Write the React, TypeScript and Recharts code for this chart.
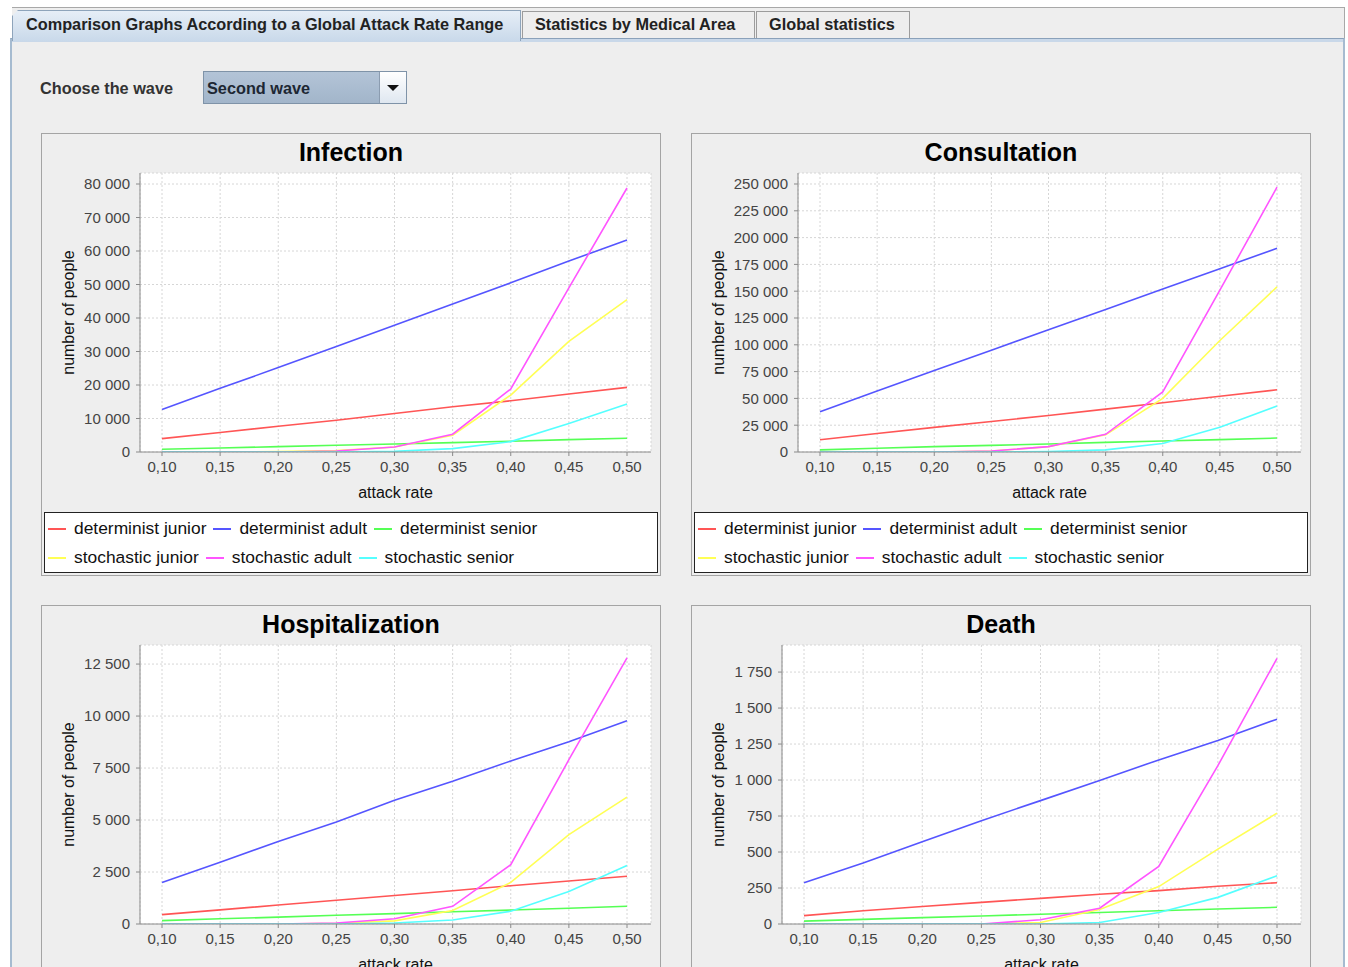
import React from 'react';
import { LineChart, Line, XAxis, YAxis, CartesianGrid, Legend } from 'recharts';

// ---------- data ----------
const attackRates = [0.1, 0.15, 0.2, 0.25, 0.3, 0.35, 0.4, 0.45, 0.5];

const seriesNames = [
  'determinist junior',
  'determinist adult',
  'determinist senior',
  'stochastic junior',
  'stochastic adult',
  'stochastic senior',
];
const seriesKeys = ['dj', 'da', 'ds', 'sj', 'sa', 'ss'];
const seriesColors = ['#ff5555', '#5555ff', '#55ff55', '#ffff55', '#ff55ff', '#55ffff'];

// Infection
const infDetJunior = [4000, 5800, 7700, 9500, 11500, 13500, 15300, 17300, 19300];
const infDetAdult = [12700, 19000, 25200, 31500, 37800, 44200, 50500, 57000, 63300];
const infDetSenior = [800, 1200, 1600, 2000, 2400, 2800, 3200, 3700, 4100];
const infStoJunior = [0, 0, 100, 400, 1500, 5000, 17000, 33000, 45500];
const infStoAdult = [0, 0, 0, 300, 1500, 5300, 18800, 49000, 78800];
const infStoSenior = [0, 0, 0, 0, 200, 1000, 3100, 8500, 14300];
const infTicks = [0, 10000, 20000, 30000, 40000, 50000, 60000, 70000, 80000];
const infYMax = 83284;

// Consultation
const conDetJunior = [11500, 17200, 23000, 28500, 34000, 40000, 46000, 52000, 58000];
const conDetAdult = [37500, 57000, 76000, 95000, 114000, 133000, 152000, 171000, 190000];
const conDetSenior = [2000, 3500, 5000, 6200, 7500, 9000, 10200, 11500, 13000];
const conStoJunior = [0, 0, 0, 1000, 5000, 16000, 50000, 104000, 154000];
const conStoAdult = [0, 0, 0, 1000, 5000, 16500, 56000, 151000, 247000];
const conStoSenior = [0, 0, 0, 0, 500, 2000, 8000, 23000, 43000];
const conTicks = [0, 25000, 50000, 75000, 100000, 125000, 150000, 175000, 200000, 225000, 250000];
const conYMax = 260261;

// Hospitalization
const hosDetJunior = [450, 680, 910, 1140, 1370, 1600, 1840, 2070, 2300];
const hosDetAdult = [2000, 2970, 3970, 4900, 5950, 6860, 7840, 8760, 9770];
const hosDetSenior = [160, 250, 330, 420, 500, 590, 670, 760, 850];
const hosStoJunior = [0, 0, 0, 30, 150, 650, 2000, 4300, 6100];
const hosStoAdult = [0, 0, 0, 50, 250, 850, 2850, 7900, 12800];
const hosStoSenior = [0, 0, 0, 0, 50, 190, 610, 1560, 2810];
const hosTicks = [0, 2500, 5000, 7500, 10000, 12500];
const hosYMax = 13417;

// Death
const deaDetJunior = [58, 92, 122, 150, 178, 207, 232, 262, 287];
const deaDetAdult = [287, 424, 572, 718, 857, 996, 1140, 1274, 1423];
const deaDetSenior = [20, 32, 44, 56, 68, 80, 92, 104, 116];
const deaStoJunior = [0, 0, 0, 0, 10, 100, 260, 520, 770];
const deaStoAdult = [0, 0, 0, 0, 30, 110, 400, 1100, 1845];
const deaStoSenior = [0, 0, 0, 0, 0, 10, 80, 185, 335];
const deaTicks = [0, 250, 500, 750, 1000, 1250, 1500, 1750];
const deaYMax = 1938;

const tabLabels = [
  'Comparison Graphs According to a Global Attack Rate Range',
  'Statistics by Medical Area',
  'Global statistics',
];

// ---------- helpers ----------
const FONT = '"Liberation Sans", Arial, Helvetica, sans-serif';

function buildRows(series: number[][]) {
  return attackRates.map((x, i) => {
    const row: Record<string, number> = { x };
    seriesKeys.forEach((k, s) => {
      row[k] = series[s][i];
    });
    return row;
  });
}

const fmtX = (v: number) => v.toFixed(2).replace('.', ',');
const fmtY = (v: number) => String(v).replace(/\B(?=(\d{3})+(?!\d))/g, ' ');

const renderLegend = (props: any) => {
  const items = ([...(props.payload || [])] as any[]).sort(
    (a, b) => seriesNames.indexOf(a.value) - seriesNames.indexOf(b.value)
  );
  const rows = [items.slice(0, 3), items.slice(3, 6)];
  return (
    <div
      style={{
        boxSizing: 'border-box',
        width: 614,
        height: 61,
        background: '#ffffff',
        border: '1px solid #222',
        paddingLeft: 3,
        fontFamily: FONT,
        fontSize: 17.4,
        color: '#111',
      }}
    >
      {rows.map((row, ri) => (
        <div
          key={ri}
          style={{ display: 'flex', alignItems: 'center', height: 29, marginTop: ri === 0 ? 1 : 0 }}
        >
          {row.map((it: any) => {
            const idx = seriesNames.indexOf(it.value);
            const color = idx >= 0 ? seriesColors[idx] : it.color;
            return (
              <div key={it.value} style={{ display: 'flex', alignItems: 'center', marginRight: 7 }}>
                <span
                  style={{ display: 'inline-block', width: 18, height: 2, background: color, marginRight: 8 }}
                />
                <span style={{ whiteSpace: 'nowrap' }}>{it.value}</span>
              </div>
            );
          })}
        </div>
      ))}
    </div>
  );
};

type PanelProps = {
  left: number;
  top: number;
  title: string;
  series: number[][];
  yTicks: number[];
  yMax: number;
  yAxisWidth: number;
};

function ChartPanel({ left, top, title, series, yTicks, yMax, yAxisWidth }: PanelProps) {
  const data = buildRows(series);
  const axisColor = '#8a8a8a';
  const tickStyle = { fontSize: 15, fill: '#444', fontFamily: FONT };
  return (
    <div style={{ position: 'absolute', left, top, width: 620, height: 443, background: '#eeeeee' }}>
      <LineChart
        width={620}
        height={443}
        data={data}
        margin={{ top: 40, right: 10, bottom: 3, left: 10 }}
        style={{ fontFamily: FONT }}
      >
        <CartesianGrid stroke="#d6d6d6" strokeDasharray="2 2" fill="#ffffff" />
        <XAxis
          dataKey="x"
          type="number"
          domain={[0.1, 0.5]}
          ticks={attackRates}
          tickFormatter={fmtX}
          padding={{ left: 22, right: 24 }}
          height={60}
          tickSize={4}
          tickMargin={5}
          stroke={axisColor}
          tick={tickStyle}
          interval={0}
          label={{ value: 'attack rate', position: 'insideBottom', offset: 14, style: { fontSize: 16, fill: '#111', fontFamily: FONT } }}
        />
        <XAxis
          xAxisId="top"
          dataKey="x"
          type="number"
          orientation="top"
          domain={[0.1, 0.5]}
          padding={{ left: 22, right: 24 }}
          height={0}
          tick={false}
          tickLine={false}
          stroke={axisColor}
        />
        <YAxis
          type="number"
          domain={[0, yMax]}
          ticks={yTicks}
          tickFormatter={fmtY}
          allowDataOverflow
          width={yAxisWidth}
          tickSize={4}
          tickMargin={6}
          stroke={axisColor}
          tick={tickStyle}
          interval={0}
          label={{
            value: 'number of people',
            angle: -90,
            position: 'insideLeft',
            offset: 17,
            style: { textAnchor: 'middle', fontSize: 16, fill: '#111', fontFamily: FONT },
          }}
        />
        <YAxis
          yAxisId="right"
          orientation="right"
          type="number"
          domain={[0, yMax]}
          width={0}
          tick={false}
          tickLine={false}
          stroke={axisColor}
        />
        <Legend
          verticalAlign="bottom"
          content={renderLegend}
          wrapperStyle={{ left: 3, bottom: 3, width: 614 }}
        />
        {seriesKeys.map((k, i) => (
          <Line
            key={k}
            dataKey={k}
            name={seriesNames[i]}
            stroke={seriesColors[i]}
            strokeWidth={1.6}
            dot={false}
            activeDot={false}
            type="linear"
            legendType="line"
            isAnimationActive={false}
          />
        ))}
      </LineChart>
      <div
        style={{
          position: 'absolute',
          left: 0,
          top: 4,
          width: 620,
          textAlign: 'center',
          fontFamily: FONT,
          fontWeight: 'bold',
          fontSize: 25,
          lineHeight: '30px',
          color: '#000',
        }}
      >
        {title}
      </div>
      <div
        style={{
          position: 'absolute',
          left: 0,
          top: 0,
          width: 620,
          height: 443,
          boxSizing: 'border-box',
          border: '1px solid #a4a4a4',
          pointerEvents: 'none',
        }}
      />
    </div>
  );
}

export default function App() {
  const tabFont = { fontFamily: FONT, fontWeight: 'bold' as const, fontSize: 16.3, color: '#222' };
  return (
    <div
      style={{
        position: 'absolute',
        left: 0,
        top: 0,
        width: 1348,
        height: 967,
        overflow: 'hidden',
        background: '#ffffff',
        fontFamily: FONT,
      }}
    >
      {/* tab strip frame */}
      <div
        style={{
          position: 'absolute',
          left: 12,
          top: 7,
          width: 1333,
          height: 33,
          borderTop: '1px solid #a8a8a8',
          borderRight: '1px solid #a8a8a8',
          background: '#eeeeee',
          boxSizing: 'border-box',
        }}
      />
      {/* content area */}
      <div
        style={{
          position: 'absolute',
          left: 10,
          top: 38,
          width: 1335,
          height: 940,
          boxSizing: 'border-box',
          background: '#eeeeee',
          borderLeft: '2px solid #a6bbd0',
          borderRight: '2px solid #a6bbd0',
          borderTop: '1px solid #8aa1ba',
        }}
      >
        <div style={{ position: 'absolute', left: 0, right: 0, top: 0, height: 3, background: '#c9d8e9' }} />
      </div>
      {/* tabs */}
      <div
        style={{
          position: 'absolute',
          left: 12,
          top: 10,
          width: 509,
          height: 31,
          boxSizing: 'border-box',
          background: 'linear-gradient(to bottom, #e6eef7, #c9d9ea)',
          borderLeft: '1px solid #8ea4bb',
          borderTop: '1px solid #8ea4bb',
          borderRight: '1px solid #8ea4bb',
          clipPath: 'polygon(6px 0, 100% 0, 100% 100%, 0 100%, 0 6px)',
          paddingLeft: 13,
          lineHeight: '27px',
          whiteSpace: 'nowrap',
          ...tabFont,
        }}
      >
        {tabLabels[0]}
      </div>
      <div
        style={{
          position: 'absolute',
          left: 522,
          top: 11,
          width: 233,
          height: 27,
          boxSizing: 'border-box',
          background: '#eeeeee',
          border: '1px solid #9c9c9c',
          borderBottom: 'none',
          paddingLeft: 12,
          lineHeight: '25px',
          whiteSpace: 'nowrap',
          ...tabFont,
        }}
      >
        {tabLabels[1]}
      </div>
      <div
        style={{
          position: 'absolute',
          left: 756,
          top: 11,
          width: 154,
          height: 27,
          boxSizing: 'border-box',
          background: '#eeeeee',
          border: '1px solid #9c9c9c',
          borderBottom: 'none',
          paddingLeft: 12,
          lineHeight: '25px',
          whiteSpace: 'nowrap',
          ...tabFont,
        }}
      >
        {tabLabels[2]}
      </div>

      {/* wave chooser */}
      <div style={{ position: 'absolute', left: 40, top: 77, lineHeight: '22px', whiteSpace: 'nowrap', ...tabFont, color: '#333' }}>
        Choose the wave
      </div>
      <div
        style={{
          position: 'absolute',
          left: 203,
          top: 71,
          width: 204,
          height: 33,
          boxSizing: 'border-box',
          border: '1px solid #7f93a8',
          background: 'linear-gradient(to bottom, #b3c4d7, #a2b5ca)',
        }}
      >
        <div style={{ position: 'absolute', left: 3, top: 5, lineHeight: '22px', whiteSpace: 'nowrap', ...tabFont, color: '#1d2733' }}>
          Second wave
        </div>
        <div
          style={{
            position: 'absolute',
            right: 0,
            top: 0,
            width: 27,
            height: 31,
            boxSizing: 'border-box',
            borderLeft: '1px solid #8b9cb0',
            background: 'linear-gradient(to bottom, #ffffff, #dfe7f0)',
          }}
        >
          <div
            style={{
              position: 'absolute',
              left: 7,
              top: 13,
              width: 0,
              height: 0,
              borderLeft: '6px solid transparent',
              borderRight: '6px solid transparent',
              borderTop: '6px solid #111',
            }}
          />
        </div>
      </div>

      <ChartPanel
        left={41}
        top={133}
        title="Infection"
        series={[infDetJunior, infDetAdult, infDetSenior, infStoJunior, infStoAdult, infStoSenior]}
        yTicks={infTicks}
        yMax={infYMax}
        yAxisWidth={89}
      />
      <ChartPanel
        left={691}
        top={133}
        title="Consultation"
        series={[conDetJunior, conDetAdult, conDetSenior, conStoJunior, conStoAdult, conStoSenior]}
        yTicks={conTicks}
        yMax={conYMax}
        yAxisWidth={97}
      />
      <ChartPanel
        left={41}
        top={605}
        title="Hospitalization"
        series={[hosDetJunior, hosDetAdult, hosDetSenior, hosStoJunior, hosStoAdult, hosStoSenior]}
        yTicks={hosTicks}
        yMax={hosYMax}
        yAxisWidth={89}
      />
      <ChartPanel
        left={691}
        top={605}
        title="Death"
        series={[deaDetJunior, deaDetAdult, deaDetSenior, deaStoJunior, deaStoAdult, deaStoSenior]}
        yTicks={deaTicks}
        yMax={deaYMax}
        yAxisWidth={81}
      />
    </div>
  );
}
